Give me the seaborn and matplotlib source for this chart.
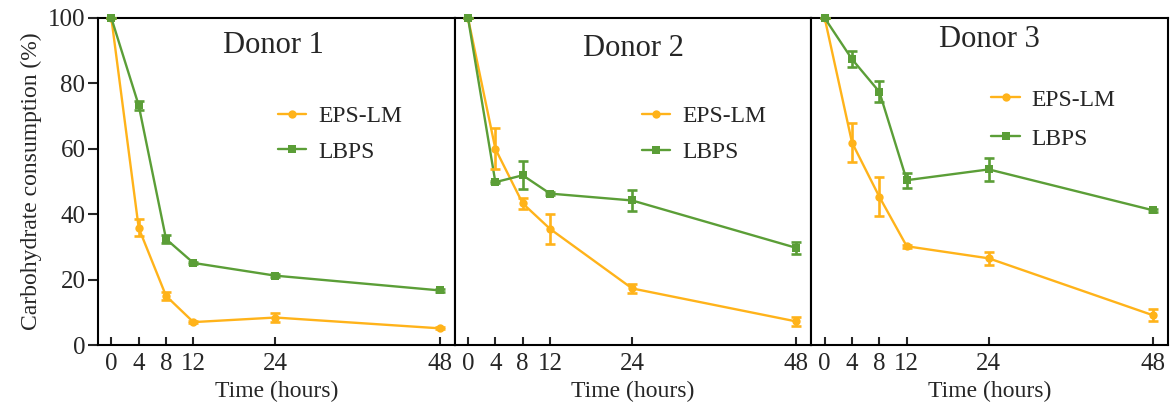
import numpy as np
import pandas as pd
import matplotlib
matplotlib.use("Agg")
import matplotlib.pyplot as plt
import seaborn as sns

# ---- data ----
times = [0, 4, 8, 12, 24, 48]
donors = ["Donor 1", "Donor 2", "Donor 3"]
series_names = ["EPS-LM", "LBPS"]

eps_d1 = [100, 35.8, 15.0, 7.0, 8.4, 5.1]
eps_d1_err = [0, 2.6, 1.3, 0.4, 1.4, 0.3]
lbps_d1 = [100, 73.3, 32.4, 25.1, 21.2, 16.7]
lbps_d1_err = [0, 1.4, 1.3, 0.4, 0.4, 0.4]

eps_d2 = [100, 60.0, 43.3, 35.5, 17.3, 7.2]
eps_d2_err = [0, 6.3, 1.8, 4.5, 1.5, 1.3]
lbps_d2 = [100, 49.8, 51.9, 46.3, 44.2, 29.7]
lbps_d2_err = [0, 0.4, 4.3, 0.4, 3.1, 1.8]

eps_d3 = [100, 61.9, 45.3, 30.2, 26.5, 9.1]
eps_d3_err = [0, 6.0, 6.0, 0.4, 2.0, 1.8]
lbps_d3 = [100, 87.4, 77.4, 50.4, 53.7, 41.2]
lbps_d3_err = [0, 2.5, 3.2, 2.3, 3.5, 0.4]

y_ticks = [0, 20, 40, 60, 80, 100]
x_label = "Time (hours)"
y_label = "Carbohydrate consumption (%)"

values = {
    "Donor 1": {"EPS-LM": (eps_d1, eps_d1_err), "LBPS": (lbps_d1, lbps_d1_err)},
    "Donor 2": {"EPS-LM": (eps_d2, eps_d2_err), "LBPS": (lbps_d2, lbps_d2_err)},
    "Donor 3": {"EPS-LM": (eps_d3, eps_d3_err), "LBPS": (lbps_d3, lbps_d3_err)},
}
rows = []
for d in donors:
    for s in series_names:
        v, e = values[d][s]
        for t, vv, ee in zip(times, v, e):
            rows.append({"donor": d, "series": s, "time": t, "value": vv, "err": ee})
df = pd.DataFrame(rows)

# ---- style ----
sns.set_style("ticks")
plt.rcParams["font.family"] = ["Liberation Serif", "DejaVu Serif"]
plt.rcParams["axes.linewidth"] = 1.5

colors = {"EPS-LM": "#FFB31A", "LBPS": "#5B9E37"}
markers = {"EPS-LM": "o", "LBPS": "s"}

fig = plt.figure(figsize=(11.7, 4.08), dpi=100)
left, right = 98 / 1170, 1168 / 1170
bottom, top = 1 - 345 / 408, 1 - 18 / 408
pw = (right - left) / 3
axes = [fig.add_axes([left + i * pw, bottom, pw, top - bottom]) for i in range(3)]

title_pos = [(0.493, 0.917), (0.50, 0.908), (0.50, 0.933)]
leg_pos = [(0.505, 0.645), (0.525, 0.644), (0.505, 0.69)]
leg_spacing = [0.6, 0.6, 0.75]

for i, (ax, d) in enumerate(zip(axes, donors)):
    sub = df[df["donor"] == d]
    sns.lineplot(data=sub, x="time", y="value", hue="series", style="series",
                 hue_order=series_names, style_order=series_names,
                 palette=colors, markers=markers, dashes=False, ax=ax,
                 linewidth=1.7, markersize=6, markeredgewidth=0,
                 errorbar=None, clip_on=False, zorder=3)
    for s in series_names:
        ss = sub[sub["series"] == s]
        ax.errorbar(ss["time"], ss["value"], yerr=ss["err"], fmt="none",
                    ecolor=colors[s], elinewidth=1.9, capsize=3.5, capthick=1.9,
                    zorder=3, clip_on=False)
    ax.set_xlim(-1.95, 50.2)
    ax.set_ylim(0, 100)
    ax.set_xticks(times)
    ax.set_xticklabels([str(t) for t in times])
    ax.tick_params(axis="x", direction="in", length=6, width=1.5,
                   labelsize=18, pad=6)
    ax.set_xlabel(x_label, fontsize=17, labelpad=4)
    for sp in ax.spines.values():
        sp.set_visible(True)
        sp.set_color("black")
    if i == 0:
        ax.set_yticks(y_ticks)
        ax.tick_params(axis="y", direction="out", length=7, width=1.5,
                       labelsize=18, pad=2)
        ax.set_ylabel(y_label, fontsize=17, labelpad=4)
    else:
        ax.set_yticks([])
        ax.set_ylabel("")
    ax.text(title_pos[i][0], title_pos[i][1], d, transform=ax.transAxes,
            ha="center", va="center", fontsize=22)
    handles, labels = ax.get_legend_handles_labels()
    ax.legend(handles, labels, loc="center left", bbox_to_anchor=leg_pos[i],
              frameon=False, fontsize=17, handlelength=1.2, handletextpad=0.5,
              labelspacing=leg_spacing[i], borderpad=0, borderaxespad=0)

fig.savefig("out.png", dpi=100)
